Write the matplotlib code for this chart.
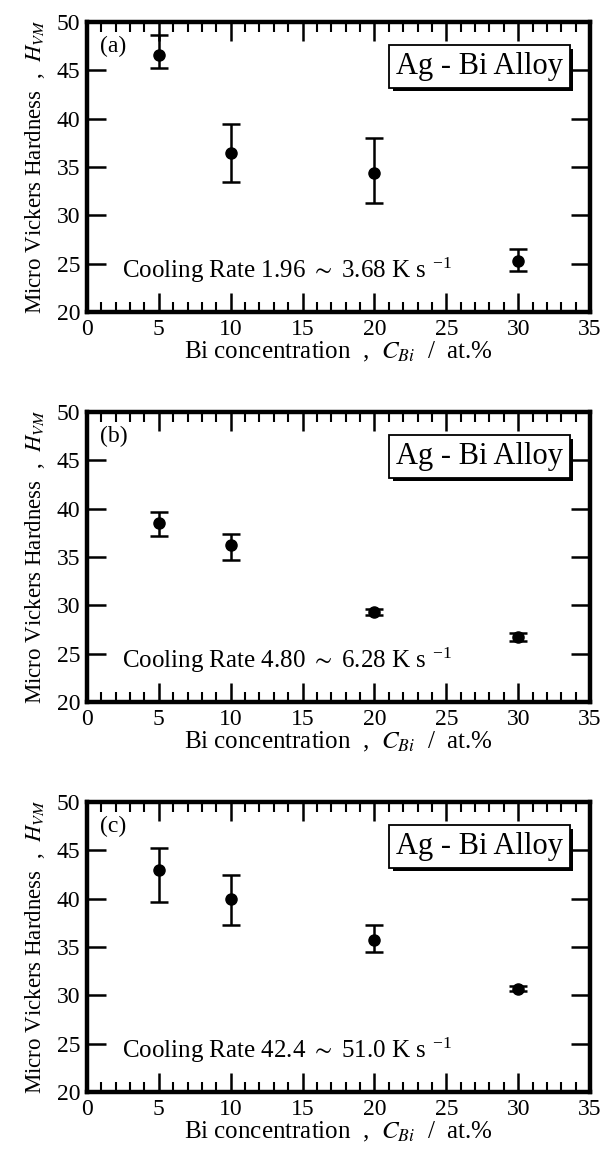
import matplotlib
matplotlib.use("Agg")
import matplotlib.pyplot as plt
from matplotlib.ticker import MultipleLocator
import matplotlib.patheffects as pe

plt.rcParams['font.family'] = ['Liberation Serif', 'DejaVu Serif']
plt.rcParams['mathtext.fontset'] = 'stix'

conc = [5, 10, 20, 30]

# panel (a)
hv_a = [46.6, 36.4, 34.4, 25.3]
lo_a = [45.2, 33.5, 31.3, 24.2]
hi_a = [48.7, 39.5, 38.0, 26.5]
# panel (b)
hv_b = [38.5, 36.2, 29.3, 26.7]
lo_b = [37.2, 34.7, 29.0, 26.3]
hi_b = [39.7, 37.4, 29.6, 27.1]
# panel (c)
hv_c = [43.0, 40.0, 35.7, 30.7]
lo_c = [39.6, 37.3, 34.5, 30.4]
hi_c = [45.2, 42.4, 37.3, 31.0]

panels = [
    ("(a)", hv_a, lo_a, hi_a, "Cooling Rate 1.96 $\\sim$ 3.68 K s $^{\\mathregular{-1}}$"),
    ("(b)", hv_b, lo_b, hi_b, "Cooling Rate 4.80 $\\sim$ 6.28 K s $^{\\mathregular{-1}}$"),
    ("(c)", hv_c, lo_c, hi_c, "Cooling Rate 42.4 $\\sim$ 51.0 K s $^{\\mathregular{-1}}$"),
]

fig = plt.figure(figsize=(6.07, 11.51), dpi=100)
bottoms = [0.7289, 0.3901, 0.0513]

for (tag, hv, lo, hi, rate), b in zip(panels, bottoms):
    ax = fig.add_axes([0.1433, b, 0.8287, 0.252])
    yerr = [[v - l for v, l in zip(hv, lo)], [h - v for v, h in zip(hv, hi)]]
    ax.errorbar(conc, hv, yerr=yerr, fmt='o', color='black', ms=8,
                elinewidth=1.8, capsize=6.5, capthick=1.8)
    ax.set_xlim(0, 35)
    ax.set_ylim(20, 50)
    ax.xaxis.set_major_locator(MultipleLocator(5))
    ax.xaxis.set_minor_locator(MultipleLocator(1))
    ax.yaxis.set_major_locator(MultipleLocator(5))
    ax.tick_params(which='both', direction='in', top=True, right=True,
                   labelsize=17, pad=5)
    ax.tick_params(which='major', length=14, width=1.8)
    ax.tick_params(which='minor', length=7, width=1.5)
    for s in ax.spines.values():
        s.set_linewidth(3.2)
    ax.set_xlabel("Bi concentration  ,  $C_{Bi}$  /  at.%", fontsize=18, labelpad=0)
    ax.set_ylabel("Micro Vickers Hardness  ,  $H_{VM}$", fontsize=16.5, labelpad=7)
    ax.text(0.025, 0.915, tag, transform=ax.transAxes, fontsize=17, va='center')
    ax.text(0.07, 0.145, rate, transform=ax.transAxes, fontsize=18, va='center')
    box = ax.text(0.946, 0.847, "Ag - Bi Alloy", transform=ax.transAxes, fontsize=22,
                  ha='right', va='center',
                  bbox=dict(boxstyle='square,pad=0.22', fc='white', ec='black', lw=1.3))
    box.get_bbox_patch().set_path_effects([
        pe.SimplePatchShadow(offset=(2.5, -2.5), shadow_rgbFace='black', alpha=1.0),
        pe.Normal()])

fig.savefig("out.png", dpi=100)
